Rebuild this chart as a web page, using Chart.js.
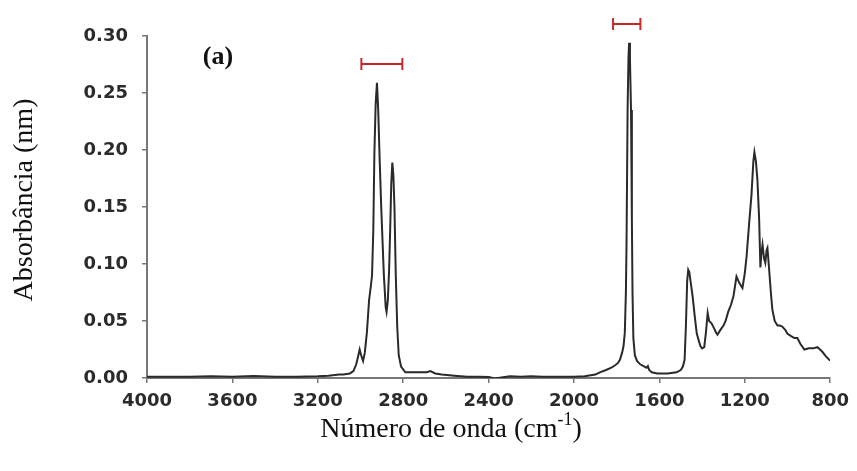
<!DOCTYPE html>
<html>
<head>
<meta charset="utf-8">
<script src="https://cdn.jsdelivr.net/npm/chart.js@4.4.1/dist/chart.umd.min.js"></script>
<style>
html,body{margin:0;padding:0;background:#fff;}
#wrap{width:857px;height:471px;position:relative;}
</style>
</head>
<body>
<div id="wrap"><canvas id="c" width="857" height="471"></canvas></div>
<script>
// Wavenumber (cm-1) and absorbance values
const wavenumbers = [4000,3900,3800,3700,3600,3500,3400,3300,3200,3150,3100,3080,3050,3033,3020,3010,3004,2997,2988,2980,2970,2960,2952,2946,2940,2935,2929,2923,2917,2910,2903,2891,2882,2878,2872,2866,2861,2856,2851,2846,2841,2835,2828,2821,2810,2790,2760,2720,2690,2673,2650,2620,2560,2500,2440,2400,2370,2340,2300,2250,2200,2150,2100,2050,2000,1950,1900,1879,1850,1825,1809,1795,1785,1775,1768,1762,1757,1754,1749,1745,1742,1738,1733,1729,1726,1722,1715,1705,1690,1670,1660,1654,1648,1636,1610,1560,1520,1500,1490,1482,1476,1470,1465,1460,1452,1444,1435,1425,1416,1408,1400,1390,1382,1374,1367,1356,1345,1335,1328,1315,1300,1290,1278,1265,1253,1239,1225,1211,1200,1192,1180,1169,1160,1155,1148,1141,1133,1127,1122,1117,1110,1104,1098,1094,1086,1078,1071,1060,1047,1035,1024,1010,1001,985,968,954,940,921,900,880,860,848,837,820,805,800];
const absorbance = [0.001,0.0012,0.001,0.0015,0.001,0.0018,0.001,0.0012,0.0015,0.002,0.003,0.003,0.004,0.006,0.012,0.020,0.025,0.020,0.015,0.022,0.040,0.068,0.080,0.090,0.130,0.197,0.240,0.259,0.235,0.190,0.150,0.092,0.062,0.058,0.068,0.095,0.130,0.170,0.189,0.178,0.150,0.092,0.045,0.020,0.010,0.005,0.005,0.005,0.005,0.006,0.004,0.003,0.002,0.001,0.001,0.0008,-0.0005,0.0005,0.0015,0.001,0.0015,0.001,0.0012,0.001,0.0012,0.0015,0.003,0.005,0.007,0.009,0.011,0.013,0.016,0.022,0.028,0.040,0.075,0.118,0.235,0.280,0.294,0.280,0.235,0.140,0.075,0.035,0.020,0.015,0.012,0.010,0.009,0.0105,0.007,0.005,0.004,0.004,0.005,0.007,0.010,0.016,0.045,0.085,0.095,0.093,0.082,0.071,0.055,0.039,0.033,0.028,0.026,0.027,0.040,0.057,0.050,0.048,0.044,0.040,0.038,0.042,0.046,0.050,0.058,0.064,0.072,0.089,0.083,0.079,0.092,0.106,0.135,0.160,0.190,0.198,0.190,0.174,0.140,0.097,0.110,0.117,0.105,0.101,0.112,0.114,0.095,0.075,0.060,0.050,0.046,0.046,0.045,0.042,0.039,0.037,0.035,0.035,0.030,0.025,0.026,0.026,0.027,0.025,0.023,0.019,0.016,0.0155];

// Axis ticks
const xTicks = [4000,3600,3200,2800,2400,2000,1600,1200,800];
const yTicks = [0.00,0.05,0.10,0.15,0.20,0.25,0.30];

// Red range markers: [from, to, level]
const rangeFrom = [2996, 1817];
const rangeTo = [2804, 1689];
const rangeLevel = [0.2754, 0.3105];

const panelLabel = '(a)';
const xTitle = 'Número de onda (cm';
const xTitleSup = '-1';
const yTitle = 'Absorbância (nm)';

const points = wavenumbers.map((w,i)=>({x:w, y:absorbance[i]}));

const decorPlugin = {
  id: 'decor',
  afterDatasetsDraw(chart){
    const ctx = chart.ctx;
    const xs = chart.scales.x, ys = chart.scales.y;
    const area = chart.chartArea;
    ctx.save();
    // range markers
    ctx.strokeStyle = '#c8282d';
    ctx.lineWidth = 2;
    for(let i=0;i<rangeFrom.length;i++){
      const x1 = xs.getPixelForValue(rangeFrom[i]);
      const x2 = xs.getPixelForValue(rangeTo[i]);
      const y = ys.getPixelForValue(rangeLevel[i]);
      ctx.beginPath();
      ctx.moveTo(x1,y); ctx.lineTo(x2,y);
      ctx.moveTo(x1,y-6); ctx.lineTo(x1,y+6);
      ctx.moveTo(x2,y-6); ctx.lineTo(x2,y+6);
      ctx.stroke();
    }
    // panel label
    ctx.fillStyle = '#111';
    ctx.font = 'bold 26px "Liberation Serif", "Times New Roman", serif';
    ctx.textAlign = 'center';
    ctx.textBaseline = 'middle';
    ctx.fillText(panelLabel, area.left + 71, area.top + 21);
    // x title with superscript
    ctx.font = '28px "Liberation Serif", "Times New Roman", serif';
    ctx.textBaseline = 'alphabetic';
    ctx.textAlign = 'left';
    const mainW = ctx.measureText(xTitle).width;
    ctx.font = '18px "Liberation Serif", "Times New Roman", serif';
    const supW = ctx.measureText(xTitleSup).width;
    ctx.font = '28px "Liberation Serif", "Times New Roman", serif';
    const closeW = ctx.measureText(')').width;
    const total = mainW + supW + closeW;
    const cx = 451;
    let sx = cx - total/2;
    const by = 437;
    ctx.fillText(xTitle, sx, by);
    ctx.font = '18px "Liberation Serif", "Times New Roman", serif';
    ctx.fillText(xTitleSup, sx + mainW, by - 12);
    ctx.font = '28px "Liberation Serif", "Times New Roman", serif';
    ctx.fillText(')', sx + mainW + supW, by);
    // y title
    ctx.save();
    ctx.translate(25, 200);
    ctx.rotate(-Math.PI/2);
    ctx.textAlign = 'center';
    ctx.textBaseline = 'middle';
    ctx.fillText(yTitle, 0, 0);
    ctx.restore();
    ctx.restore();
  }
};

const tickFont = {family: '"DejaVu Sans", sans-serif', size: 18, weight: 'bold'};

new Chart(document.getElementById('c'), {
  type: 'line',
  data: {
    datasets: [{
      data: points,
      borderColor: '#2a2a2a',
      borderWidth: 2,
      pointRadius: 0,
      tension: 0,
      fill: false
    }]
  },
  options: {
    responsive: false,
    animation: false,
    plugins: {legend: {display: false}, tooltip: {enabled: false}},
    layout: {padding: {left: 0, right: 26, top: 36, bottom: 0}},
    scales: {
      x: {
        type: 'linear',
        reverse: true,
        min: 800, max: 4000,
        afterBuildTicks(scale){ scale.ticks = xTicks.map(v=>({value:v})); },
        afterFit(scale){ scale.height = 93; },
        ticks: {font: tickFont, color: '#2b2b2b', padding: 8, autoSkip: false, maxRotation: 0,
          callback: v => String(v)},
        grid: {drawOnChartArea: false, drawTicks: true, tickLength: 5, color: '#777', lineWidth: 1.5},
        border: {display: true, color: '#777', width: 2}
      },
      y: {
        min: 0, max: 0.30,
        afterBuildTicks(scale){ scale.ticks = yTicks.map(v=>({value:v})); },
        afterFit(scale){ scale.width = 147; },
        ticks: {font: tickFont, color: '#2b2b2b', padding: 14,
          callback: v => Number(v).toFixed(2)},
        grid: {drawOnChartArea: false, drawTicks: true, tickLength: 5, color: '#777', lineWidth: 1.5},
        border: {display: true, color: '#777', width: 2}
      }
    }
  },
  plugins: [decorPlugin]
});
</script>
</body>
</html>
